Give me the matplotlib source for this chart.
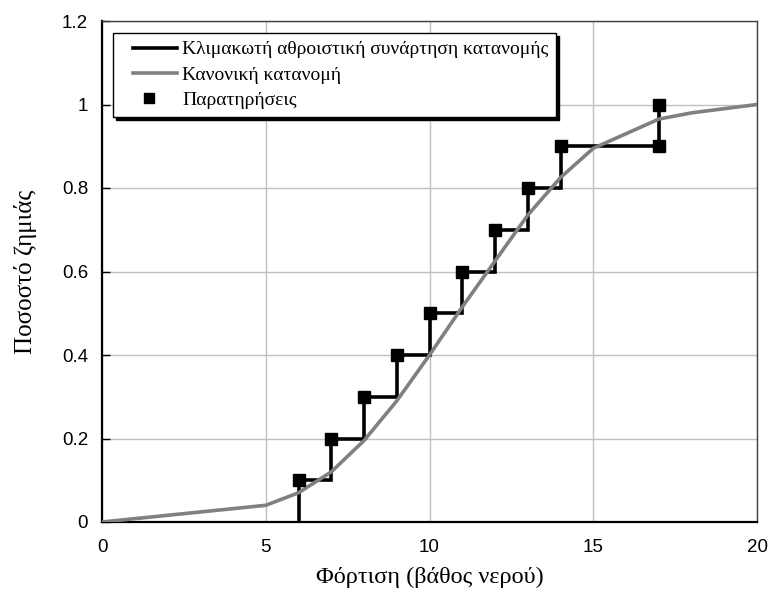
import matplotlib
matplotlib.use("Agg")
import matplotlib.pyplot as plt
from matplotlib.lines import Line2D
from matplotlib.legend_handler import HandlerLine2D

# Observed damage fractions
obs_x = [6, 7, 8, 9, 10, 11, 12, 13, 14, 17, 17]
obs_y = [0.1, 0.2, 0.3, 0.4, 0.5, 0.6, 0.7, 0.8, 0.9, 0.9, 1.0]

# Step (empirical) cumulative distribution
step_x = [6, 6, 7, 7, 8, 8, 9, 9, 10, 10, 11, 11, 12, 12, 13, 13, 14, 14, 17, 17]
step_y = [0.0, 0.1, 0.1, 0.2, 0.2, 0.3, 0.3, 0.4, 0.4, 0.5, 0.5, 0.6, 0.6, 0.7,
          0.7, 0.8, 0.8, 0.9, 0.9, 1.0]

# Fitted normal distribution
norm_x = [0, 5, 6, 7, 8, 9, 10, 11, 12, 13, 14, 15, 17, 18, 20]
norm_y = [0.0, 0.04, 0.07, 0.12, 0.195, 0.29, 0.40, 0.515, 0.625, 0.735,
          0.825, 0.895, 0.965, 0.98, 1.0]

x_ticks = [0, 5, 10, 15, 20]
y_ticks = [0, 0.2, 0.4, 0.6, 0.8, 1.0, 1.2]
y_tick_labels = ["0", "0.2", "0.4", "0.6", "0.8", "1", "1.2"]

serif = ["Liberation Serif", "DejaVu Serif"]
sans = ["Liberation Sans", "DejaVu Sans"]

fig = plt.figure(figsize=(7.68, 6.01), dpi=100)
ax = fig.add_axes([102 / 768, 1 - 522 / 601, 655 / 768, 501 / 601])

ax.set_xlim(0, 20)
ax.set_ylim(0, 1.2)
ax.set_xticks(x_ticks)
ax.set_xticklabels([str(v) for v in x_ticks])
ax.set_yticks(y_ticks)
ax.set_yticklabels(y_tick_labels)

ax.grid(True, color="#c0c0c0", linewidth=1.0)
ax.set_axisbelow(True)

for lab in ax.get_xticklabels() + ax.get_yticklabels():
    lab.set_fontfamily(sans)
    lab.set_fontsize(13.5)

ax.tick_params(axis="y", direction="in", length=6, width=1, pad=10, color="black")
ax.tick_params(axis="x", length=0, pad=12)

for side in ("left", "bottom"):
    ax.spines[side].set_linewidth(1.6)
    ax.spines[side].set_color("black")
for side in ("top", "right"):
    ax.spines[side].set_linewidth(1.0)
    ax.spines[side].set_color("#404040")

step_line, = ax.plot(step_x, step_y, color="black", linewidth=2.6,
                     solid_joinstyle="miter",
                     label="Κλιμακωτή αθροιστική συνάρτηση κατανομής", zorder=3)
norm_line, = ax.plot(norm_x, norm_y, color="#808080", linewidth=2.6,
                     label="Κανονική κατανομή", zorder=4)
obs_pts, = ax.plot(obs_x, obs_y, linestyle="none", marker="s", markersize=9,
                   color="black", label="Παρατηρήσεις", zorder=5, clip_on=False)

ax.set_xlabel("Φόρτιση (βάθος νερού)", fontfamily=serif, fontsize=17.5, labelpad=8)
ax.set_ylabel("Ποσοστό ζημιάς", fontfamily=serif, fontsize=18, labelpad=18)

# Line handles start a little inset from the legend frame
line_handler = HandlerLine2D(xpad=0.62)
leg = ax.legend(handles=[step_line, norm_line, obs_pts],
                handler_map={step_line: line_handler, norm_line: line_handler},
                loc="upper left", bbox_to_anchor=(11 / 655, 1 - 12 / 501),
                prop={"family": serif, "size": 14}, frameon=True, fancybox=False,
                shadow={"color": "black", "alpha": 1.0}, handlelength=2.9,
                handletextpad=0.26, labelspacing=0.4, borderaxespad=0,
                borderpad=0.4, markerscale=0.8)
leg.get_frame().set_edgecolor("black")
leg.get_frame().set_linewidth(1.0)
leg.get_frame().set_alpha(1.0)

fig.savefig("out.png", dpi=100)
